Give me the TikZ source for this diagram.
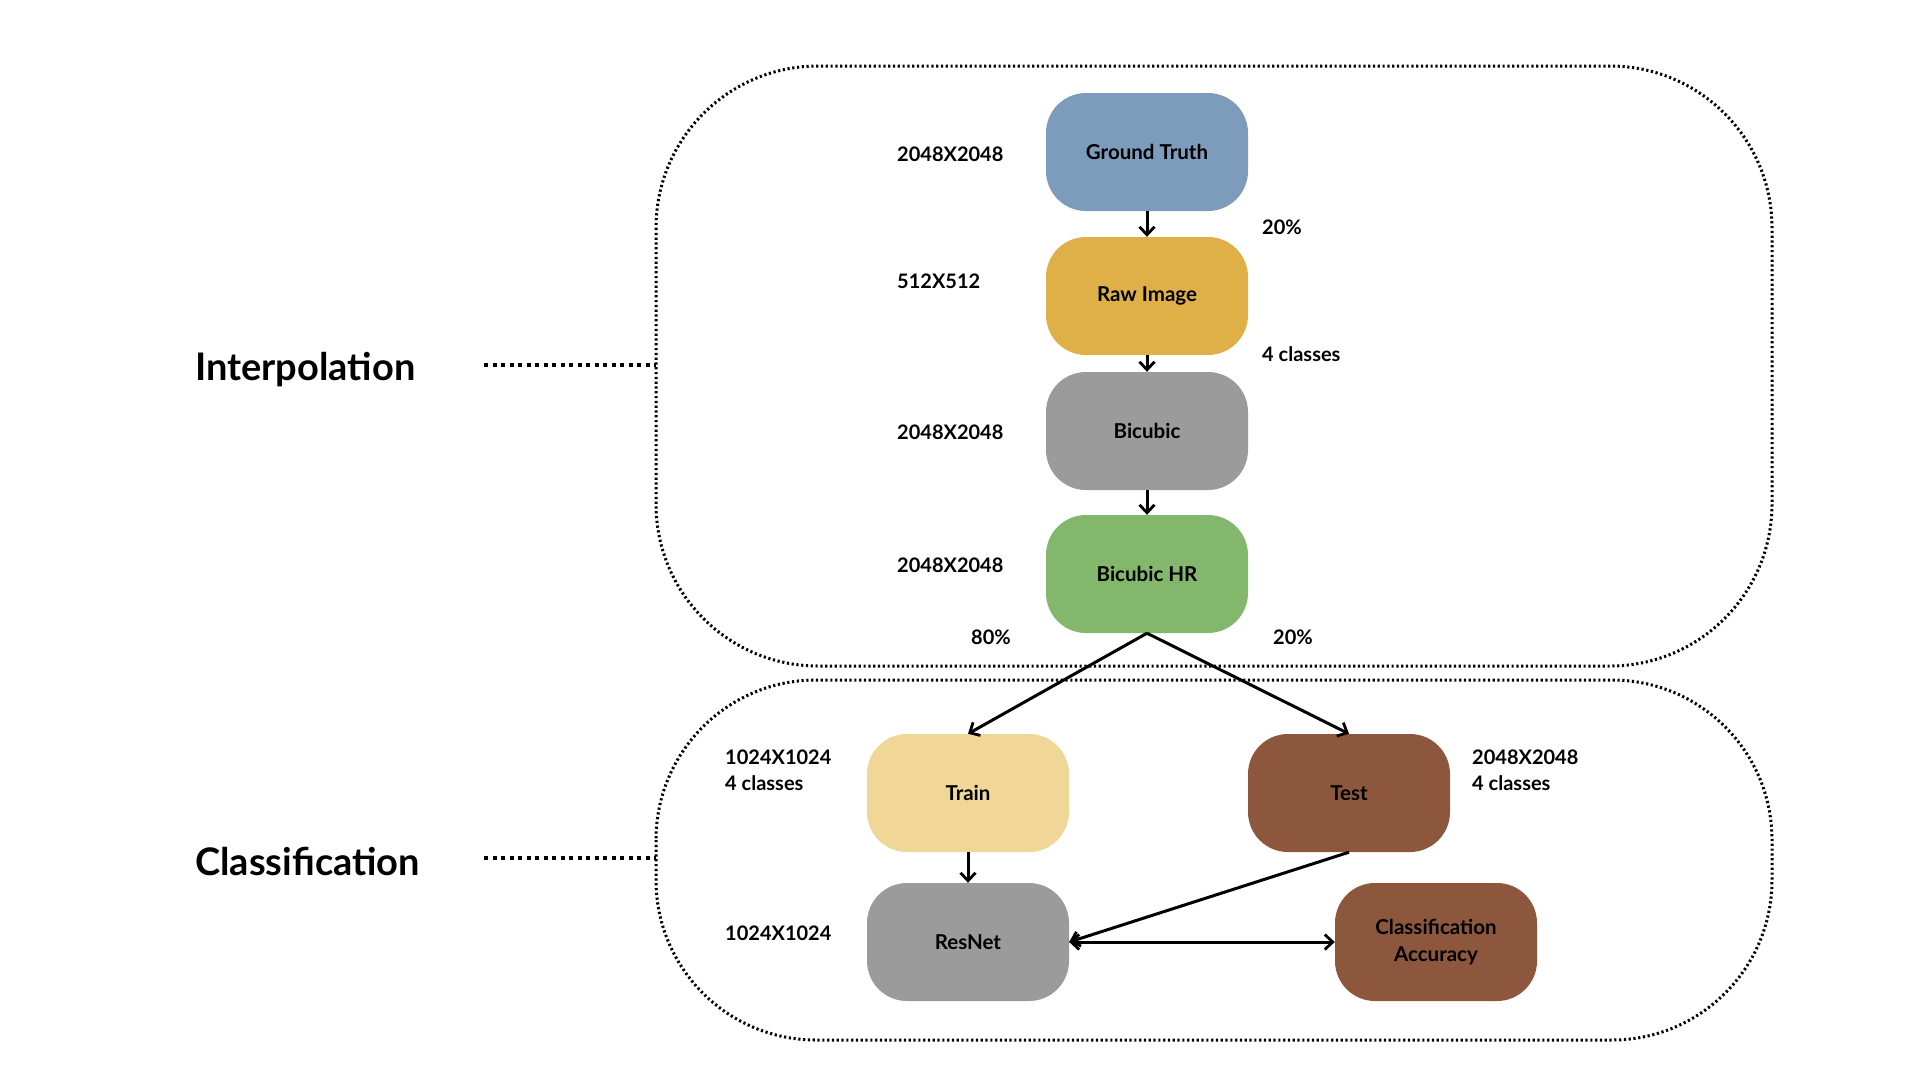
\documentclass[tikz,border=0pt]{standalone}
\usepackage{fontspec}
\setmainfont{Lato}
\usetikzlibrary{arrows.meta}
\definecolor{gtblue}{HTML}{7D9BBA}
\definecolor{rawgold}{HTML}{DFB048}
\definecolor{midgray}{HTML}{9B9B9B}
\definecolor{hrgreen}{HTML}{83B86C}
\definecolor{trainsand}{HTML}{F0D798}
\definecolor{brownish}{HTML}{8C573C}
\tikzset{
  stage/.style={rectangle, rounded corners=40pt, minimum width=202pt,
    minimum height=118pt, inner sep=0pt, align=center,
    font=\fontsize{20.5}{27}\selectfont\bfseries},
  note/.style={anchor=west, inner sep=0pt, align=left,
    font=\fontsize{20}{26}\selectfont\bfseries},
  phase/.style={anchor=west, inner sep=0pt,
    font=\fontsize{38}{44}\selectfont\bfseries},
  group/.style={line width=3pt, dash pattern=on 2.2pt off 2.6pt},
  leader/.style={line width=3.5pt, dash pattern=on 4pt off 4.5pt},
  tip/.style={},
  flow/.style={line width=3pt, -{Straight Barb[length=8pt,width=15pt,line width=2.8pt]}},
  both/.style={line width=3pt, {Straight Barb[length=8pt,width=15pt,line width=2.8pt]}-{Straight Barb[length=8pt,width=15pt,line width=2.8pt]}}
}
\begin{document}
\begin{tikzpicture}[x=1pt,y=-1pt]
\useasboundingbox (0,0) rectangle (1920,1080);

% group outlines
\draw[group, rounded corners=162pt] (656,66) rectangle (1772,666);
\draw[group, rounded corners=160pt] (656,680) rectangle (1772,1040);

% phase labels with leaders
\node[phase] (interp) at (195,370) {Interpolation};
\node[phase] (classif) at (195,861) {Classification};
\coordinate (interpR) at (656,365);
\coordinate (classifR) at (656,858);
\coordinate (interpL) at (484,365);
\coordinate (classifL) at (484,858);
\draw[leader] (interpL) -- (interpR);
\draw[leader] (classifL) -- (classifR);

% stages
\node[stage, fill=gtblue] (gt) at (1147,152) {Ground Truth};
\node[stage, fill=rawgold] (raw) at (1147,296) {Raw Image};
\node[stage, fill=midgray] (bic) at (1147,431) {Bicubic};
\node[stage, fill=hrgreen] (hr) at (1147,574) {Bicubic HR};
\node[stage, fill=trainsand] (train) at (968,793) {Train};
\node[stage, fill=brownish] (test) at (1349,793) {Test};
\node[stage, fill=midgray] (resnet) at (968,942) {ResNet};
\node[stage, fill=brownish] (acc) at (1436,942) {Classification\\Accuracy};

% annotations
\node[note] (s1) at (897,154) {2048X2048};
\node[note] (s2) at (897,281) {512X512};
\node[note] (s3) at (897,432) {2048X2048};
\node[note] (s4) at (897,565) {2048X2048};
\node[note] (p1) at (1262,227) {20\%};
\node[note] (c1) at (1262,354) {4 classes};
\node[note] (p2) at (971,637) {80\%};
\node[note] (p3) at (1273,637) {20\%};
\node[note] (s5) at (725,770) {1024X1024\\4 classes};
\node[note] (s6) at (1472,770) {2048X2048\\4 classes};
\node[note] (s7) at (725,933) {1024X1024};

% connectors
\draw[flow] (gt.south) -- (raw.north);
\draw[flow] (raw.south) -- (bic.north);
\draw[flow] (bic.south) -- (hr.north);
\draw[flow] (hr.south) -- (train.north);
\draw[flow] (hr.south) -- (test.north);
\draw[flow] (train.south) -- (resnet.north);
\draw[flow] (test.south) -- (resnet.east);
\draw[both] (resnet.east) -- (acc.west);
\end{tikzpicture}
\end{document}
